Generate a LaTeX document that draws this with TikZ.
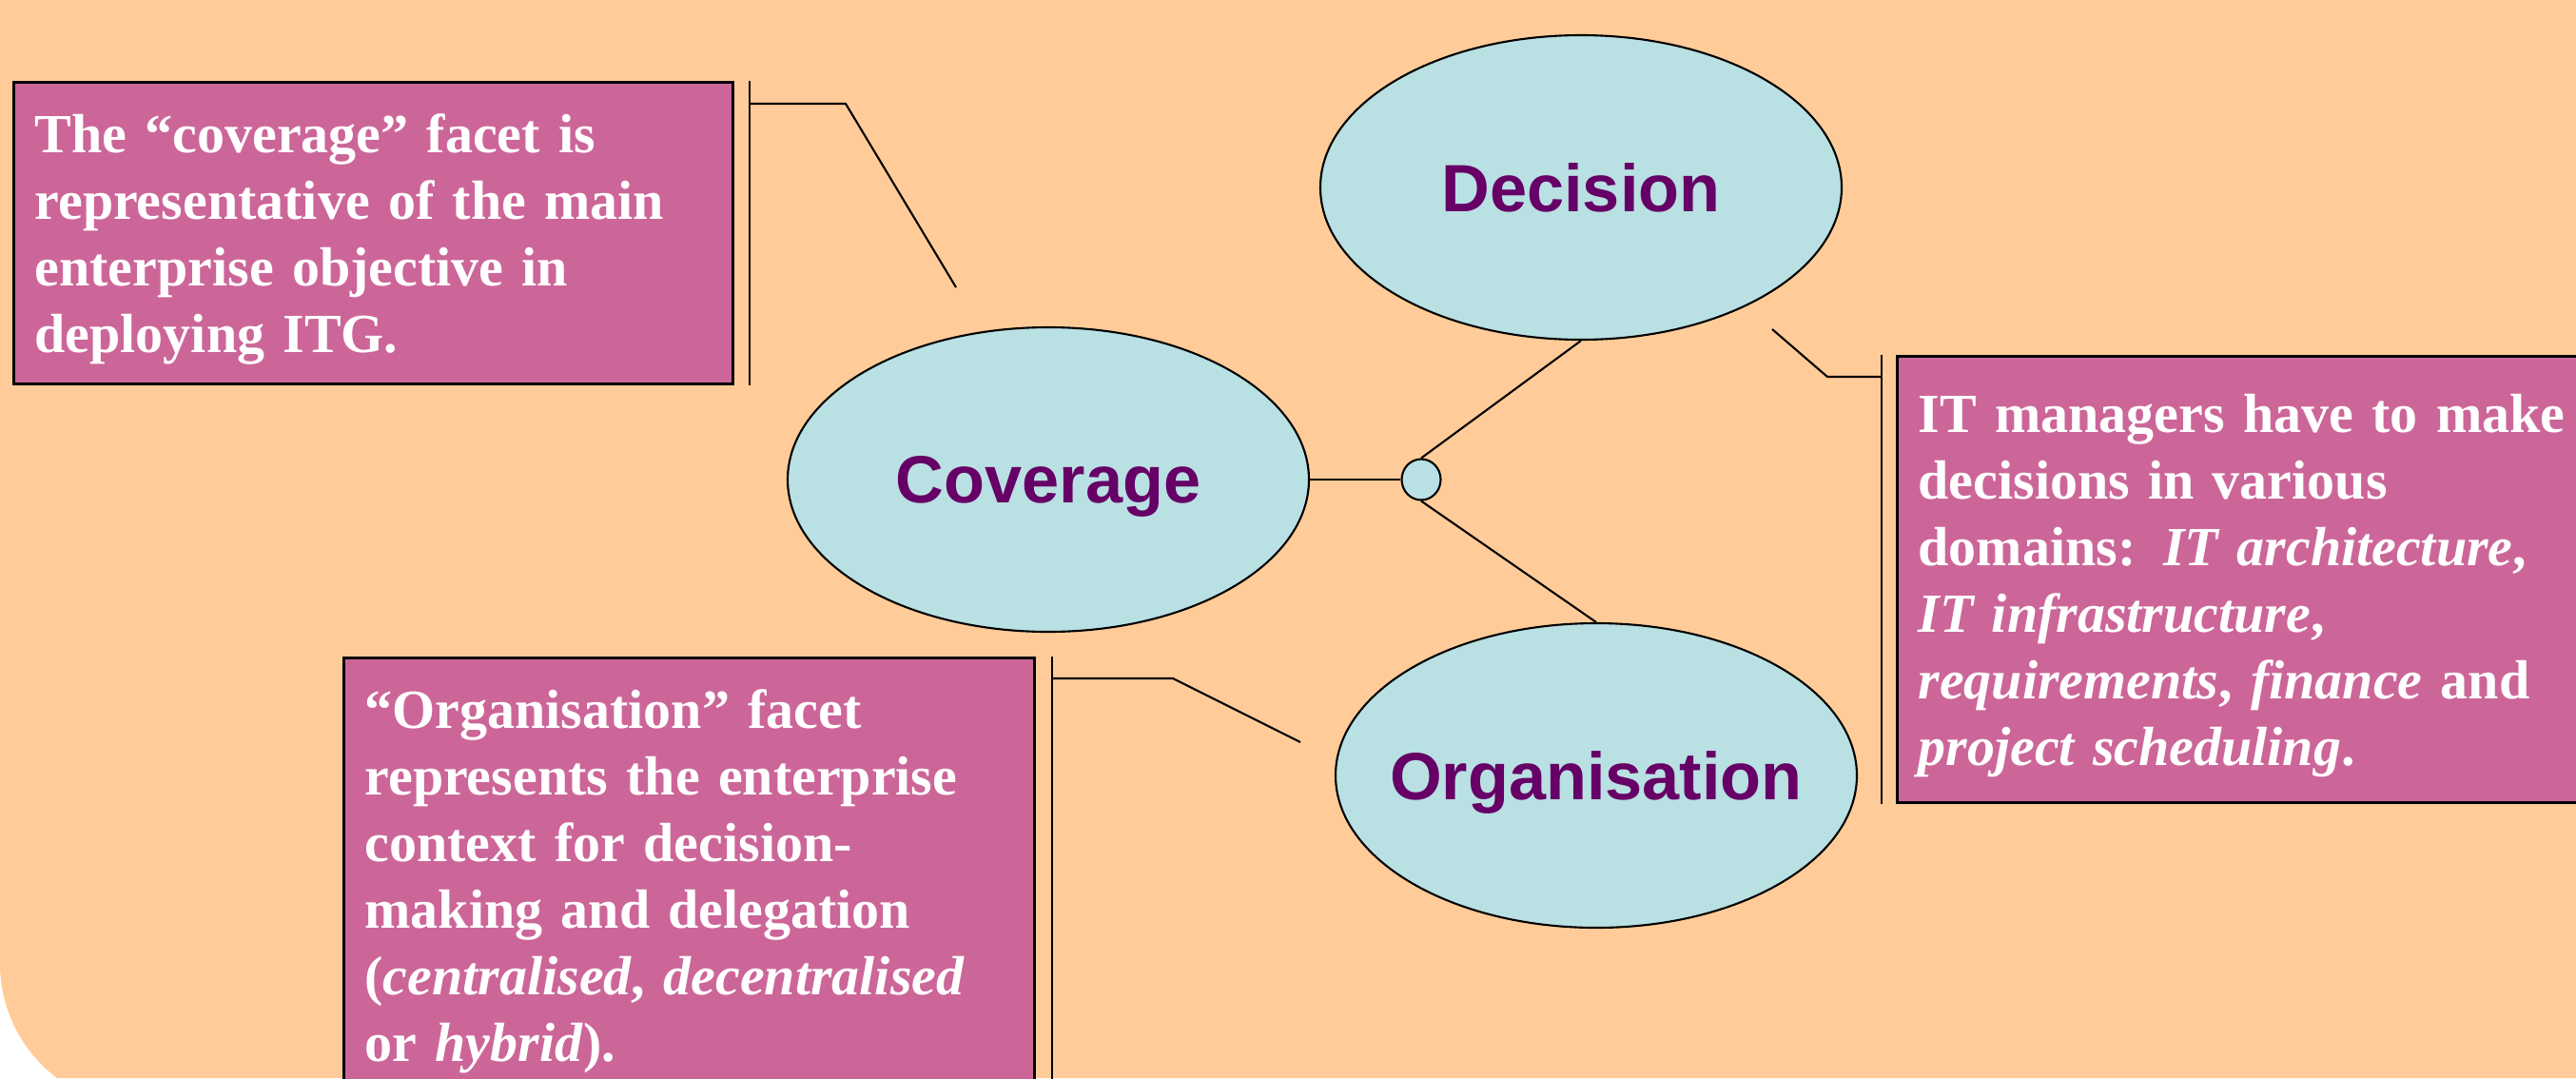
\documentclass[tikz,border=0pt]{standalone}
\usepackage{fontspec}
\setmainfont{Liberation Serif}
\newfontfamily\labelfont{Liberation Sans}
\usepackage{tikz}
\usetikzlibrary{shapes.geometric,positioning}
\definecolor{peach}{HTML}{FFCC99}
\definecolor{notepink}{HTML}{CC6699}
\definecolor{facetblue}{HTML}{B9E0E3}
\definecolor{facetpurple}{HTML}{660066}

\begin{document}
\begin{tikzpicture}[
    link/.style={line width=0.6pt},
    facet/.style={draw,ellipse,fill=facetblue,link,minimum width=5.48cm,minimum height=3.2cm,inner sep=0pt},
    facetlabel/.style={text=facetpurple,inner sep=0pt,text depth=0pt,font=\labelfont\bfseries\fontsize{20}{24}\selectfont},
    note/.style={draw,rectangle,fill=notepink,line width=0.9pt,anchor=north west,align=left,inner xsep=0.22cm,inner ysep=0pt,text=white,font=\bfseries\fontsize{16.5}{19.9}\selectfont},
]
    \useasboundingbox (0,0) rectangle (27.08,11.33);
    \clip (0,0) rectangle (27.08,11.33);
    %background
    \fill[white] (0,0) rectangle (27.08,11.33);
    \fill[peach] (0,11.33) -- (27.08,11.33) -- (27.08,0) -- (0.6,0)
        arc[start angle=233.13,end angle=180,radius=1.5] -- cycle;

    %facets
    \node[draw,ellipse,fill=facetblue,link,minimum width=0.41cm,minimum height=0.43cm,inner sep=0pt] (j) at (14.94,6.29) {};
    \node[facet,label={[facetlabel]center:Coverage}] (cov) at (11.02,6.29) {};
    \node[facet,label={[facetlabel]center:Decision}] (dec) at (16.62,9.36) {};
    \node[facet,label={[facetlabel]center:Organisation}] (org) at (16.78,3.18) {};

    \draw[link] (cov.east) -- (j.west);
    \draw[link] (j.north) -- (dec.south);
    \draw[link] (j.south) -- (org.north);

    %notes
    \node[note,text width=7.12cm,minimum height=3.17cm] (n1) at (0.13,10.48)
        {\rule{0pt}{0.92em}The “coverage” facet is\\representative of the main\\enterprise objective in\\deploying ITG.};
    \node[note,text width=7.1cm,minimum height=4.69cm] (n2) at (19.93,7.60)
        {\rule{0pt}{0.92em}IT managers have to make\\decisions in various\\domains: \textit{IT architecture},\\\textit{IT infrastructure},\\\textit{requirements}, \textit{finance} and\\\textit{project scheduling}.};
    \node[note,text width=6.82cm,minimum height=4.70cm] (n3) at (3.60,4.43)
        {“Organisation” facet\\represents the enterprise\\context for decision-\\making and delegation\\(\textit{centralised}, \textit{decentralised}\\or \textit{hybrid}).};

    %callouts
    \coordinate (b1) at ([xshift=0.16cm]n1.north east);
    \coordinate (b1s) at ([xshift=0.16cm]n1.south east);
    \coordinate (k1) at (8.89,10.24);
    \coordinate (t1) at (10.05,8.31);
    \draw[link] (b1) -- (b1s);
    \draw[link] (k1 -| b1) -- (k1) -- (t1);

    \coordinate (b2) at ([xshift=-0.15cm]n2.north west);
    \coordinate (b2s) at ([xshift=-0.15cm]n2.south west);
    \coordinate (k2) at (19.21,7.37);
    \coordinate (t2) at (18.63,7.87);
    \draw[link] (b2) -- (b2s);
    \draw[link] (k2 -| b2) -- (k2) -- (t2);

    \coordinate (b3) at ([xshift=0.17cm]n3.north east);
    \coordinate (b3s) at ([xshift=0.17cm]n3.south east);
    \coordinate (k3) at (12.33,4.20);
    \coordinate (t3) at (13.67,3.53);
    \draw[link] (b3) -- (b3s);
    \draw[link] (k3 -| b3) -- (k3) -- (t3);
\end{tikzpicture}
\end{document}
